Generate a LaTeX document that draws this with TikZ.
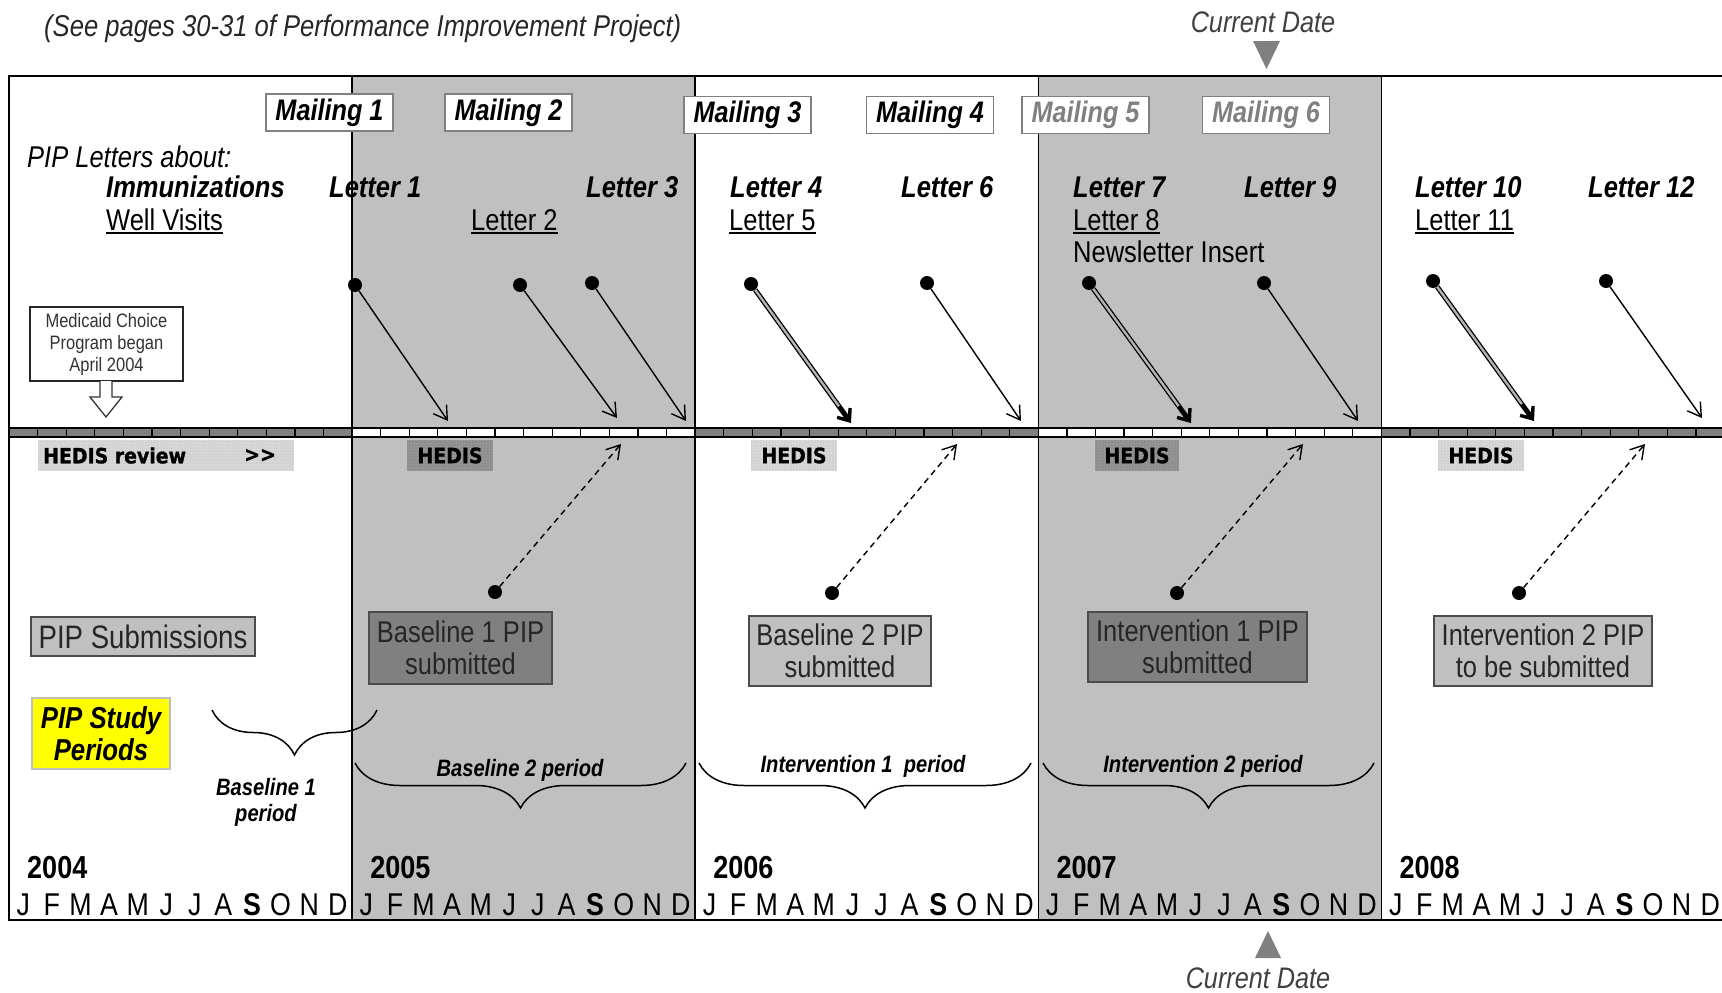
\documentclass[tikz,border=0pt]{standalone}
\usepackage{fontspec}
\setmainfont{Liberation Sans}[FakeStretch=0.85]
\newfontfamily\hedfont{DejaVu Sans}[FakeStretch=0.9, BoldFeatures={FakeBold=1.2}]
\usetikzlibrary{arrows.meta,patterns,decorations.pathreplacing,calc}
\definecolor{yrgray}{HTML}{C0C0C0}
\definecolor{dkgray}{HTML}{808080}
\definecolor{txtgray}{HTML}{404040}
\definecolor{hlight}{HTML}{D2D2D2}
\definecolor{hdark}{HTML}{8E8E8E}
\definecolor{pipyellow}{HTML}{FFFF00}
\newcommand\fsz[2]{\fontsize{#1}{#2}\selectfont}
\newcommand\ulx[1]{\setbox0\hbox{#1}\rlap{\rule[-4pt]{\wd0}{1.8pt}}\box0}
\begin{document}
\begin{tikzpicture}[x=1pt,y=-1pt,
  mail/.style={draw=dkgray, line width=1.6, fill=white, minimum width=127, minimum height=37, inner sep=0, font=\fsz{29.7}{32}\bfseries\itshape},
  ltr/.style={anchor=base west, inner sep=0, font=\fsz{30}{32}\bfseries\itshape},
  ltru/.style={anchor=base west, inner sep=0, font=\fsz{30}{32}},
  dot/.style={circle, fill=black, inner sep=0, minimum size=14},
  arr/.style={line width=1.4, -{Straight Barb[length=13,width=16]}},
  dblline/.style={draw=black, line width=1.3, double=dkgray!60, double distance=2.4, shorten >=6},
  dblhead/.style={line width=3.4, -{Straight Barb[length=10,width=16]}},
  darr/.style={line width=1.4, dash pattern=on 6 off 4.5, -{Straight Barb[length=13,width=16]}},
  hedl/.style={preaction={fill=hlight}, pattern=dots, pattern color=white, inner sep=0, minimum height=31},
  hedd/.style={preaction={fill=hdark}, pattern=dots, pattern color=yrgray, inner sep=0, minimum height=31},
  hedtxt/.style={inner sep=0, font=\hedfont\bfseries\fsz{21}{24}},
  pipbox/.style={draw=black!70, line width=1.6, inner sep=0, align=center, font=\fsz{30}{32}, text=black!85},
  brc/.style={decorate, decoration={brace, amplitude=45}, line width=1.5},
  brtxt/.style={inner sep=0, align=center, font=\fsz{23.7}{26}\bfseries\itshape},
  mon/.style={anchor=base, inner sep=0, font=\fsz{31.5}{32}},
  yr/.style={anchor=base west, inner sep=0, font=\fsz{31.8}{32}\bfseries}
]
\useasboundingbox (0,0) rectangle (1722,993);

% gray years
\fill[yrgray] (352.1,76) rectangle (695.2,920);
\fill[yrgray] (1038.3,76) rectangle (1381.4,920);

% timeline bar cells
\foreach \k in {0,...,4}{
  \pgfmathsetmacro\xs{9+343.1*\k}
  \ifodd\k \def\cc{white}\else\def\cc{dkgray}\fi
  \foreach \i in {0,...,11}{
    \filldraw[fill=\cc, draw=black, line width=1.2] ({\xs+\i*28.59},428) rectangle ({\xs+\i*28.59+28.59},437);
  }
}
\draw[line width=2] (9,428) -- (1722,428);
\draw[line width=2] (9,437) -- (1722,437);

% frame
\draw[line width=2] (1722,76) -- (9,76) -- (9,920) -- (1722,920);
\foreach \k in {1,...,4}{
  \draw[line width=1.6] ({9+343.1*\k},76) -- ({9+343.1*\k},920);
}

% title and current date
\node[anchor=base west, inner sep=0, font=\fsz{30.1}{32}\itshape, text=black!85] (title) at (44,36) {(See pages 30-31 of Performance Improvement Project)};
\node[anchor=base, inner sep=0, font=\fsz{29.7}{32}\itshape, text=txtgray] (cdtop) at (1263,32) {Current Date};
\fill[dkgray] (1253,41) -- (1280,41) -- (1266.5,69) -- cycle;
\fill[dkgray] (1255,958) -- (1281,958) -- (1268,931) -- cycle;
\node[anchor=base, inner sep=0, font=\fsz{29.7}{32}\itshape, text=txtgray] (cdbot) at (1258,988) {Current Date};

% mailings
\node[mail] (m1) at (329.5,112.5) {Mailing 1};
\node[mail] (m2) at (508.5,112.5) {Mailing 2};
\node[mail] (m3) at (747.5,115) {Mailing 3};
\node[mail] (m4) at (930,115) {Mailing 4};
\node[mail, text=dkgray] (m5) at (1085.5,115) {Mailing 5};
\node[mail, text=dkgray] (m6) at (1266,115) {Mailing 6};

% letters
\node[anchor=base west, inner sep=0, font=\fsz{30}{32}\itshape] (pl) at (27,167) {PIP Letters about:};
\node[ltr] (imm) at (106,197) {Immunizations};
\node[ltru] (wv) at (106,230) {\ulx{Well Visits}};
\node[ltr] (l1) at (329,197) {Letter 1};
\node[ltru] (l2) at (471,230) {\ulx{Letter 2}};
\node[ltr] (l3) at (586,197) {Letter 3};
\node[ltr] (l4) at (730,197) {Letter 4};
\node[ltru] (l5) at (729,230) {\ulx{Letter 5}};
\node[ltr] (l6) at (901,197) {Letter 6};
\node[ltr] (l7) at (1073,197) {Letter 7};
\node[ltru] (l8) at (1073,230) {\ulx{Letter 8}};
\node[ltru] (nl) at (1073,262) {Newsletter Insert};
\node[ltr] (l9) at (1244,197) {Letter 9};
\node[ltr] (l10) at (1415,197) {Letter 10};
\node[ltru] (l11) at (1415,230) {\ulx{Letter 11}};
\node[ltr] (l12) at (1588,197) {Letter 12};

% Medicaid box
\node[draw=black!85, line width=1.5, fill=white, minimum width=153, minimum height=74, inner sep=0, align=center, font=\fsz{19.4}{22}, text=black!80] (med) at (106.5,344) {Medicaid Choice\\Program began\\April 2004};
\draw[line width=1.3, draw=black!80, fill=white] (100,381) -- (100,397) -- (90,397) -- (106,417) -- (122,397) -- (112,397) -- (112,381);

% letter arrows
\node[dot] (d1) at (355,285) {};  \coordinate (t1) at (448,421);
\node[dot] (d2) at (520,285) {};  \coordinate (t2) at (617,418);
\node[dot] (d3) at (592,283) {};  \coordinate (t3) at (686,421);
\node[dot] (d4) at (751,284) {};  \coordinate (t4) at (851,423);
\node[dot] (d5) at (927,283) {};  \coordinate (t5) at (1021,421);
\node[dot] (d6) at (1089,283) {}; \coordinate (t6) at (1191,423);
\node[dot] (d7) at (1264,283) {}; \coordinate (t7) at (1358,421);
\node[dot] (d8) at (1433,281) {}; \coordinate (t8) at (1534,421);
\node[dot] (d9) at (1606,281) {}; \coordinate (t9) at (1702,418);
\foreach \n in {1,2,3,5,7,9}{ \draw[arr] (d\n) -- (t\n); }
\foreach \n in {4,6,8}{
  \draw[dblline] (d\n) -- (t\n);
  \draw[dblhead] ($(d\n.center)!0.88!(t\n)$) -- (t\n);
}

% HEDIS
\node[hedl, minimum width=256] (hb0) at (166,455.5) {};
\node[hedtxt, anchor=west] (ht0) at (43,455.5) {HEDIS review};
\node[hedtxt, anchor=west] (ht0b) at (244,455.5) {>>};
\node[hedd, minimum width=86, hedtxt] (hb1) at (450,455.5) {HEDIS};
\node[hedl, minimum width=86, hedtxt] (hb2) at (794,455.5) {HEDIS};
\node[hedd, minimum width=84, hedtxt] (hb3) at (1137,455.5) {HEDIS};
\node[hedl, minimum width=86, hedtxt] (hb4) at (1481,455.5) {HEDIS};

% submissions
\node[dot] (e1) at (495,592) {};  \coordinate (u1) at (621,444);
\node[dot] (e2) at (832,593) {};  \coordinate (u2) at (957,444);
\node[dot] (e3) at (1177,593) {}; \coordinate (u3) at (1303,444);
\node[dot] (e4) at (1519,593) {}; \coordinate (u4) at (1645,444);
\foreach \n in {1,...,4}{ \draw[darr] (e\n) -- (u\n); }

\node[pipbox, fill=yrgray, minimum width=224, minimum height=39, font=\fsz{32.5}{34}] (pips) at (143,636.5) {PIP Submissions};
\node[pipbox, fill=dkgray, minimum width=183, minimum height=72] (bp1) at (460.5,648) {Baseline 1 PIP\\submitted};
\node[pipbox, fill=yrgray, minimum width=182, minimum height=70] (bp2) at (840,651) {Baseline 2 PIP\\submitted};
\node[pipbox, fill=dkgray, minimum width=219, minimum height=70] (ip1) at (1197.5,647) {Intervention 1 PIP\\submitted};
\node[pipbox, fill=yrgray, minimum width=218, minimum height=70] (ip2) at (1543,651) {Intervention 2 PIP\\to be submitted};

\node[draw=black!25, line width=1.5, fill=pipyellow, minimum width=138, minimum height=71, inner sep=0, align=center, font=\fsz{30.3}{32}\bfseries\itshape] (psp) at (101,733.5) {PIP Study\\Periods};

% braces
\coordinate (b1r) at (377,710); \coordinate (b1l) at (212,710);
\coordinate (b2r) at (686,763); \coordinate (b2l) at (355,763);
\coordinate (b3r) at (1031,763); \coordinate (b3l) at (699,763);
\coordinate (b4r) at (1374,763); \coordinate (b4l) at (1043,763);
\foreach \n in {1,...,4}{ \draw[brc] (b\n r) -- (b\n l); }
\node[brtxt] (bt1) at (266,802) {Baseline 1\\period};
\node[brtxt] (bt2) at (520,770) {Baseline 2 period};
\node[brtxt] (bt3) at (863,766) {Intervention 1\ \ period};
\node[brtxt] (bt4) at (1203,766) {Intervention 2 period};

% years and months
\foreach \k/\yy in {0/2004,1/2005,2/2006,3/2007,4/2008}{
  \node[yr] (yr\k) at ({27+343.1*\k},878) {\yy};
  \foreach \l [count=\i from 0] in {J,F,M,A,M,J,J,A,\textbf{S},O,N,D}{
    \node[mon] (mo\k-\i) at ({9+343.1*\k+(\i+0.5)*28.59},915) {\l};
  }
}
\end{tikzpicture}
\end{document}
